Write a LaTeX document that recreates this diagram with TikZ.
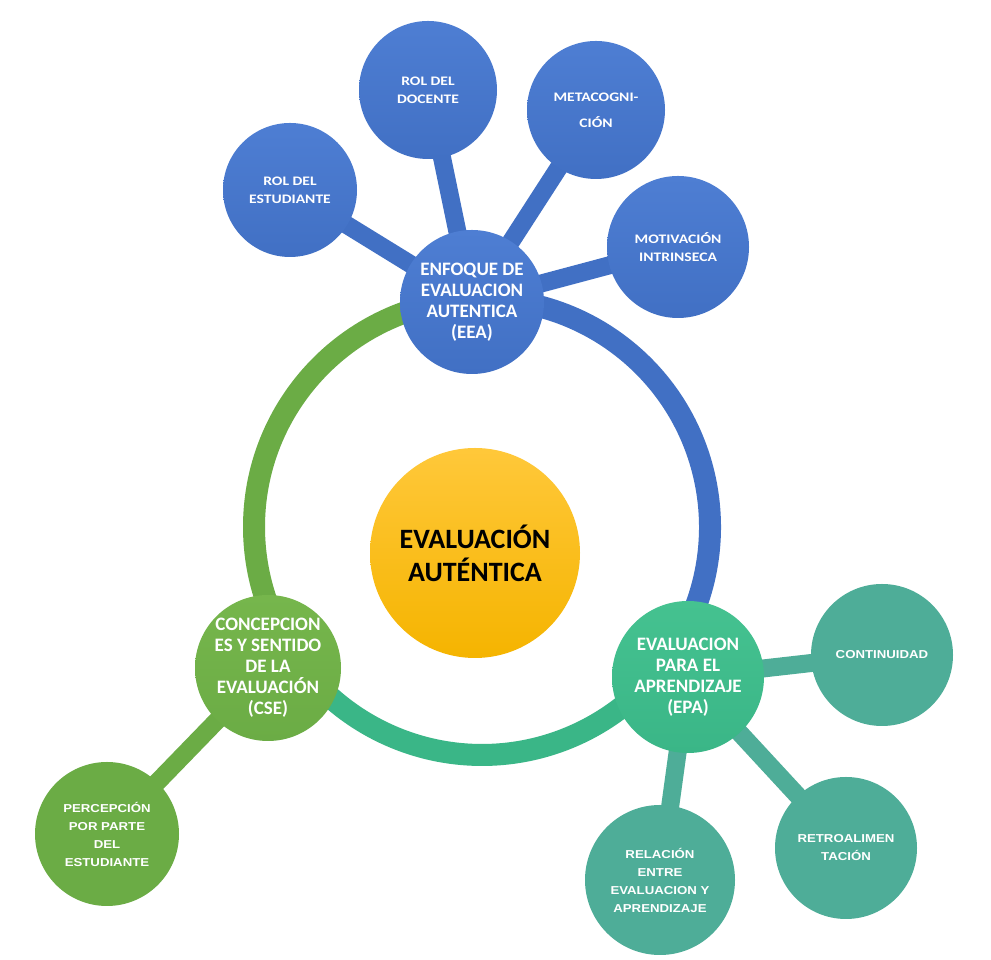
\documentclass[tikz,border=0pt]{standalone}
\usepackage{fontspec}
\setmainfont{Carlito}
\newfontfamily\calfont[FakeStretch=1.2]{Carlito}
\newfontfamily\arialfont[FakeStretch=1.15]{Liberation Sans}
\usetikzlibrary{backgrounds}

\definecolor{bleu}{HTML}{4170C4}
\definecolor{bleuclair}{HTML}{4E7ED3}
\definecolor{vert}{HTML}{6BAC45}
\definecolor{vertclair}{HTML}{76B64C}
\definecolor{menthe}{HTML}{3AB687}
\definecolor{mentheclair}{HTML}{45C290}
\definecolor{turquoise}{HTML}{4EAD98}
\definecolor{jaune}{HTML}{FFC83A}
\definecolor{jaunefonce}{HTML}{F5B400}

\tikzset{
  bulle/.style={circle, inner sep=0pt, align=center, text=white},
  noyau/.style={bulle, minimum size=210pt, top color=jaune, bottom color=jaunefonce, text=black, font=\bfseries\fontsize{28}{33}\selectfont},
  axe/.style={bulle, font=\bfseries\fontsize{19}{21}\selectfont},
  bleue/.style={top color=bleuclair, bottom color=bleu},
  sat/.style={bulle, minimum size=138pt, bleue, font=\calfont\bfseries\fontsize{13}{18}\selectfont},
  satb/.style={bulle, minimum size=142pt, fill=turquoise, font=\arialfont\bfseries\fontsize{11.5}{18}\selectfont},
  lien/.style={line width=18pt},
  anneau/.style={line width=22pt}
}

\begin{document}
\begin{tikzpicture}[x=1pt,y=1pt]
  \useasboundingbox (0,0) rectangle (991,960);
  \coordinate (centre) at (482,433);

  % noyau et axes
  \node (eval) [noyau] at (475,407) {EVALUACIÓN\\AUTÉNTICA};
  \node (eea) [axe, minimum size=144pt, bleue] at (472,658) {ENFOQUE DE\\EVALUACION\\AUTENTICA\\(EEA)};
  \node (cse) [axe, minimum size=146pt, top color=vertclair, bottom color=vert] at (268,292) {CONCEPCION\\ES Y SENTIDO\\DE LA\\EVALUACIÓN\\(CSE)};
  \node (epa) [axe, minimum size=152pt, top color=mentheclair, bottom color=menthe] at (688,283) {EVALUACION\\PARA EL\\APRENDIZAJE\\(EPA)};

  % satellites EEA
  \node (rolest) [sat, minimum size=134pt] at (290,770) {ROL DEL\\ESTUDIANTE};
  \node (roldoc) [sat] at (428,870) {ROL DEL\\DOCENTE};
  \node (meta) [sat] at (596,850) {METACOGNI-\\[8pt]CIÓN};
  \node (motiv) [sat, minimum size=142pt] at (678,713) {MOTIVACIÓN\\INTRINSECA};

  % satellites EPA et CSE
  \node (cont) [satb] at (882,305) {CONTINUIDAD};
  \node (retro) [satb] at (846,112) {RETROALIMEN\\TACIÓN};
  \node (rel) [satb, minimum size=150pt] at (660,80) {RELACIÓN\\ENTRE\\EVALUACION Y\\APRENDIZAJE};
  \node (perc) [satb, minimum size=144pt, fill=vert] at (107,126) {PERCEPCIÓN\\POR PARTE\\DEL\\ESTUDIANTE};

  \begin{scope}[on background layer]
    \fill[white] (0,0) rectangle (991,960);
    % anneau
    \draw[anneau, vert] (centre) ++(92.5:228) arc[start angle=92.5, end angle=213.4, radius=228pt];
    \draw[anneau, menthe] (centre) ++(213.4:228) arc[start angle=213.4, end angle=323.9, radius=228pt];
    \draw[anneau, bleu] (centre) ++(323.9:228) arc[start angle=323.9, end angle=452.5, radius=228pt];
    % liens
    \foreach \s in {rolest, roldoc, meta, motiv}
      \draw[lien, bleu] (eea.center) -- (\s.center);
    \foreach \s in {cont, retro, rel}
      \draw[lien, turquoise] (epa.center) -- (\s.center);
    \draw[lien, vert] (cse.center) -- (perc.center);
  \end{scope}
\end{tikzpicture}
\end{document}
